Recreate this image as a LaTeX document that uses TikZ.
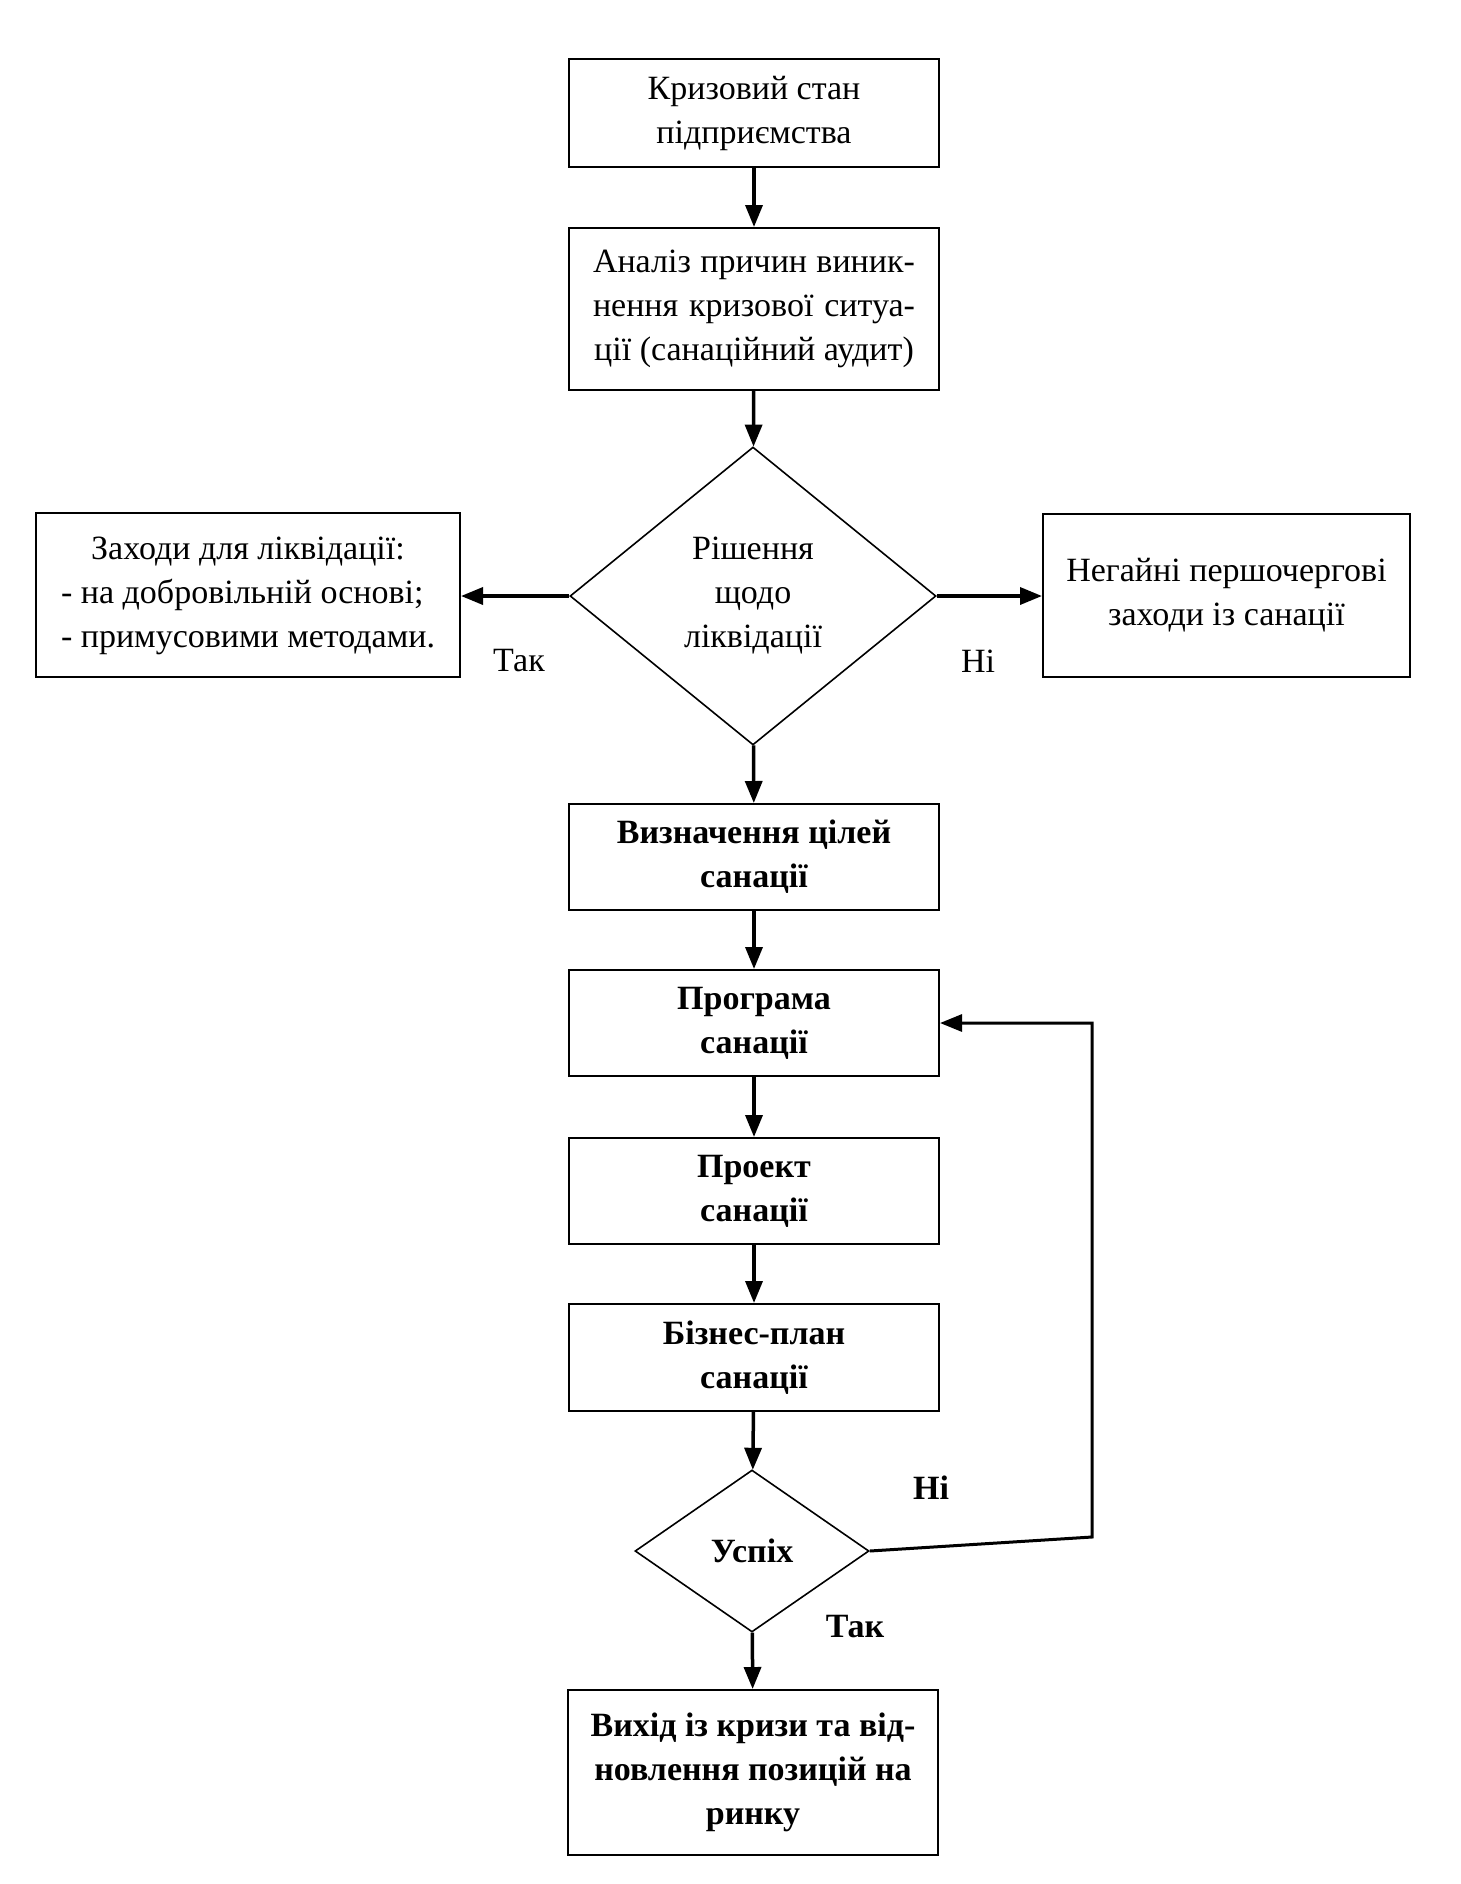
\documentclass[tikz,border=0pt]{standalone}
\usepackage{fontspec}
\setmainfont{Liberation Serif}
\usetikzlibrary{shapes.geometric,arrows.meta}
\begin{document}
\begin{tikzpicture}[x=1pt,y=-1pt,
  txt/.style={font=\fontsize{34}{44}\selectfont},
  box/.style={txt,draw,line width=2pt,rectangle,inner sep=0pt,align=center},
  dia/.style={txt,draw,line width=1.6pt,diamond,inner sep=0pt,align=center},
  arr/.style={line width=3.5pt,-{Triangle[length=22pt,width=17pt]}},
  looparr/.style={line width=3pt,-{Triangle[length=22pt,width=17pt]}},
  lbl/.style={txt,inner sep=0pt}]
\useasboundingbox (0,0) rectangle (1461,1884);
\node[box,minimum width=370pt,minimum height=108pt] (b1) at (754,113) {Кризовий стан\\підприємства};
\node[box,minimum width=370pt,minimum height=162pt] (b2) at (754,309)
  {\makebox[322pt][s]{Аналіз причин виник-}\\\makebox[322pt][s]{нення кризової ситуа-}\\ції (санаційний аудит)};
\node[dia,minimum width=366pt,minimum height=298pt] (d1) at (753,596) {Рішення\\щодо\\ліквідації};
\node[box,minimum width=424pt,minimum height=164pt] (lb) at (248,595)
  {\begin{tabular}{@{}l@{}}\multicolumn{1}{@{}c@{}}{Заходи для ліквідації:}\\- на добровільній основі;\\- примусовими методами.\end{tabular}};
\node[box,minimum width=367pt,minimum height=163pt] (rb) at (1226.5,595) {Негайні першочергові\\заходи із санації};
\node[box,minimum width=370pt,minimum height=106pt,font=\fontsize{34}{44}\selectfont\bfseries] (b3) at (754,857) {Визначення цілей\\санації};
\node[box,minimum width=370pt,minimum height=106pt,font=\fontsize{34}{44}\selectfont\bfseries] (b4) at (754,1023) {Програма\\санації};
\node[box,minimum width=370pt,minimum height=106pt,font=\fontsize{34}{44}\selectfont\bfseries] (b5) at (754,1191) {Проект\\санації};
\node[box,minimum width=370pt,minimum height=107pt,font=\fontsize{34}{44}\selectfont\bfseries] (b6) at (754,1357.5) {Бізнес-план\\санації};
\node[dia,minimum width=234pt,minimum height=162pt,font=\fontsize{34}{44}\selectfont\bfseries] (d2) at (752,1551) {Успіх};
\node[box,minimum width=370pt,minimum height=165pt,font=\fontsize{34}{44}\selectfont\bfseries] (b7) at (753,1772.5) {Вихід із кризи та від-\\новлення позицій на\\ринку};
\node[lbl] (l1) at (519,661) {Так};
\node[lbl] (l2) at (978,661) {Ні};
\node[lbl,font=\fontsize{34}{44}\selectfont\bfseries] (l3) at (931,1488) {Ні};
\node[lbl,font=\fontsize{34}{44}\selectfont\bfseries] (l4) at (855,1627) {Так};
\coordinate (lc) at (1092,1537);
\draw[arr] (b1) -- (b2);
\draw[arr] (b2) -- (d1);
\draw[arr] (d1.west) -- (d1.west -| lb.east);
\draw[arr] (d1.east) -- (d1.east -| rb.west);
\draw[arr] (d1) -- (b3);
\draw[arr] (b3) -- (b4);
\draw[arr] (b4) -- (b5);
\draw[arr] (b5) -- (b6);
\draw[arr] (b6) -- (d2);
\draw[arr] (d2) -- (b7);
\draw[looparr] (d2.east) -- (lc) |- (b4.east);
\end{tikzpicture}
\end{document}
